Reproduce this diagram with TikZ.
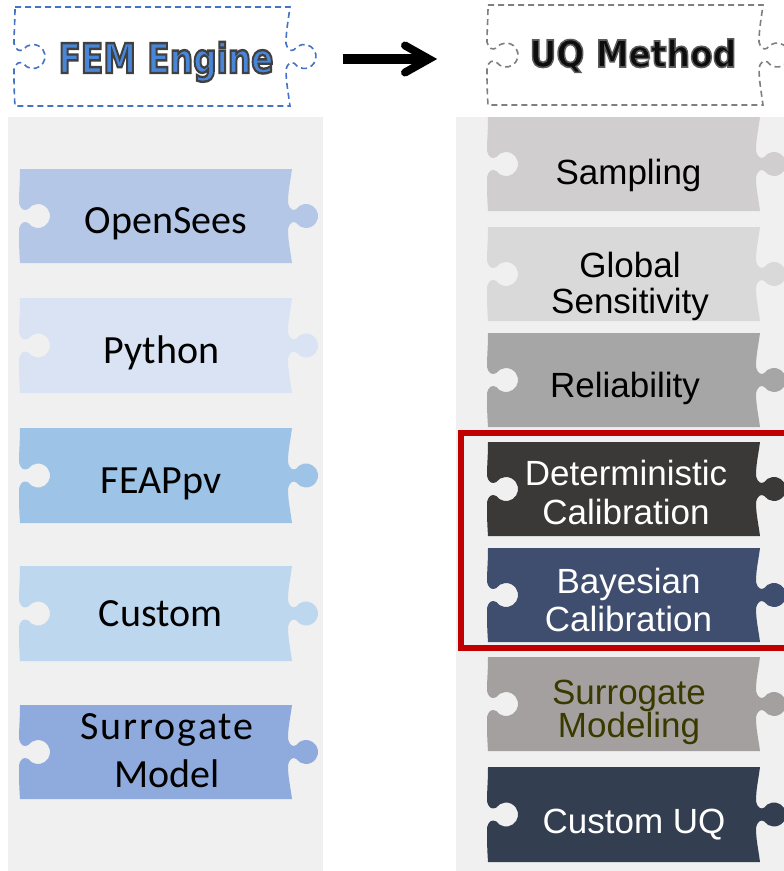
\documentclass[tikz,border=0pt]{standalone}
\usepackage{fontspec}
\usepackage{graphicx}
\usetikzlibrary{calc}
\newfontfamily\arialf{Liberation Sans}
\newfontfamily\calf{Carlito}
\newfontfamily\calfsp[LetterSpace=5]{Carlito}
\newfontfamily\hdrf{DejaVu Sans}
\definecolor{panelbg}{HTML}{F0F0F0}
\definecolor{cOpen}{HTML}{B4C7E7}
\definecolor{cPy}{HTML}{DAE3F3}
\definecolor{cFeap}{HTML}{9DC3E6}
\definecolor{cCust}{HTML}{BDD7EE}
\definecolor{cSurr}{HTML}{8FAADC}
\definecolor{cSamp}{HTML}{D0CECE}
\definecolor{cGlob}{HTML}{D9D9D9}
\definecolor{cRel}{HTML}{A6A6A6}
\definecolor{cDet}{HTML}{3B3838}
\definecolor{cBay}{HTML}{3F4D6E}
\definecolor{cSM}{HTML}{A5A0A0}
\definecolor{cSMtext}{HTML}{3A3A00}
\definecolor{cCUQ}{HTML}{333F50}
\definecolor{femblue}{HTML}{4A86D8}
\definecolor{femline}{HTML}{4472C4}
\definecolor{uqtext}{HTML}{0D0D0D}
\definecolor{uqline}{HTML}{7F7F7F}
\definecolor{redbox}{HTML}{C00000}
% outlined text: #1 = stroke width, #2 = stroke colour as PDF RG triple, #3 = text
\newcommand{\outlined}[3]{\special{pdf:literal direct 2 Tr #1 w #2 RG}#3\special{pdf:literal direct 0 Tr}}
% puzzle piece: #1 style, #2 x0, #3 x1, #4 top, #5 bottom
\newcommand{\pz}[5]{%
\pgfmathsetmacro\pzm{(#4+#5)/2}%
\pgfmathsetmacro\pze{#3-4}%
\pgfmathsetmacro\pzl{#2-1}%
\path[#1] (#2,#4) -- (#3,#4)
  .. controls (#3-2,#4+15) and (\pze,\pzm-25) .. (\pze,\pzm-13)
  .. controls (\pze+2,\pzm-6) and (\pze+5,\pzm-5) .. (\pze+8.2,\pzm-6.9)
  arc[start angle=-145,end angle=145,radius=12]
  .. controls (\pze+5,\pzm+5) and (\pze+2,\pzm+6) .. (\pze,\pzm+13)
  .. controls (\pze,\pzm+25) and (#3-2,#5-15) .. (#3,#5)
  -- (#2,#5)
  .. controls (\pzl,#5-15) and (\pzl,\pzm+25) .. (\pzl,\pzm+13)
  .. controls (\pzl+2,\pzm+6) and (\pzl+5,\pzm+5) .. (\pzl+9.2,\pzm+6.9)
  arc[start angle=145,end angle=-145,radius=12]
  .. controls (\pzl+5,\pzm-5) and (\pzl+2,\pzm-6) .. (\pzl,\pzm-13)
  .. controls (\pzl,\pzm-25) and (#2,#4+15) .. (#2,#4) -- cycle;}
\tikzset{
  ltxt/.style={inner sep=0pt, text=black, align=center, font=\calf\fontsize{40}{48}\selectfont},
  rtxt/.style={inner sep=0pt, align=center, font=\arialf\fontsize{35}{37}\selectfont},
  hdr/.style={inner sep=0pt, anchor=base, font=\hdrf\bfseries\fontsize{41}{45}\selectfont},
  femdash/.style={draw=femline, line width=1.6pt, dash pattern=on 6pt off 4pt},
  uqdash/.style={draw=uqline, line width=1.6pt, dash pattern=on 6pt off 4pt},
}
\begin{document}
\begin{tikzpicture}[x=1pt,y=-1pt]
\clip (0,0) rectangle (784,871);
\fill[white] (0,0) rectangle (784,871);
% panels
\fill[panelbg] (8,117) rectangle (323,871);
\fill[panelbg] (456,117) rectangle (784,871);
% header shapes
\pz{femdash}{15}{290}{7}{106}
\pz{uqdash}{488}{763}{5}{105}
% header texts with outline
\node[hdr, text=femblue] (femt) at (166,73) {\outlined{2.4}{0.25 0.25 0.25}{\scalebox{0.8}[1]{FEM Engine}}};
\node[hdr, text=uqtext, font=\hdrf\bfseries\fontsize{37}{40}\selectfont] (uqt) at (633,67) {\outlined{1.6}{0.36 0.36 0.36}{\scalebox{0.89}[1]{UQ Method}}};
% arrow
\coordinate (arrS) at (343,59);
\coordinate (arrE) at (429,59);
\draw[line width=9.5pt] (arrS) -- (arrE);
\draw[line width=8pt, line cap=round, line join=miter] ($(arrE)+(-24,-13.5)$) -- (arrE) -- ($(arrE)+(-24,13.5)$);
% left pieces
\pz{fill=cOpen}{20}{292}{169}{263}
\pz{fill=cPy}{20}{292}{298}{393}
\pz{fill=cFeap}{20}{292}{428}{523}
\pz{fill=cCust}{20}{292}{566}{661}
\pz{fill=cSurr}{20}{292}{705}{799}
\node[ltxt, anchor=base] (opensees) at (166,233) {OpenSees};
\node[ltxt, anchor=base] (python) at (161.5,363) {Python};
\node[ltxt, anchor=base] (feap) at (161,493) {FEAPpv};
\node[ltxt, anchor=base] (custom) at (160.5,626) {Custom};
\node[ltxt] (surrmodel) at (167,750.5) {{\calfsp Surrogate}\\Model};
% right pieces
\pz{fill=cSamp}{488}{760}{117}{211}
\pz{fill=cGlob}{488}{760}{227}{321}
\pz{fill=cRel}{488}{760}{333}{427}
\pz{fill=cDet}{488}{760}{442}{536}
\pz{fill=cBay}{488}{760}{548}{642}
\pz{fill=cSM}{488}{760}{657}{751}
\pz{fill=cCUQ}{488}{760}{767}{862}
\node[rtxt, anchor=base, text=black] (sampling) at (628.5,184) {Sampling};
\node[rtxt, text=black, font=\arialf\fontsize{35}{36}\selectfont] (global) at (630,286) {Global\\Sensitivity};
\node[rtxt, anchor=base, text=black] (reliab) at (625,397) {Reliability};
\node[rtxt, text=white, font=\arialf\fontsize{35}{39}\selectfont] (determ) at (626,492) {Deterministic\\Calibration};
\node[rtxt, text=white, font=\arialf\fontsize{35}{38}\selectfont] (bayes) at (628.5,599.5) {Bayesian\\Calibration};
\node[rtxt, text=cSMtext, font=\arialf\fontsize{35}{33}\selectfont] (surrmod) at (629,712) {Surrogate\\Modeling};
\node[rtxt, anchor=base, text=white] (customuq) at (634,833) {Custom UQ};
% highlight box
\draw[redbox, line width=5.5pt] (461,433) rectangle (800,648);
\end{tikzpicture}
\end{document}
